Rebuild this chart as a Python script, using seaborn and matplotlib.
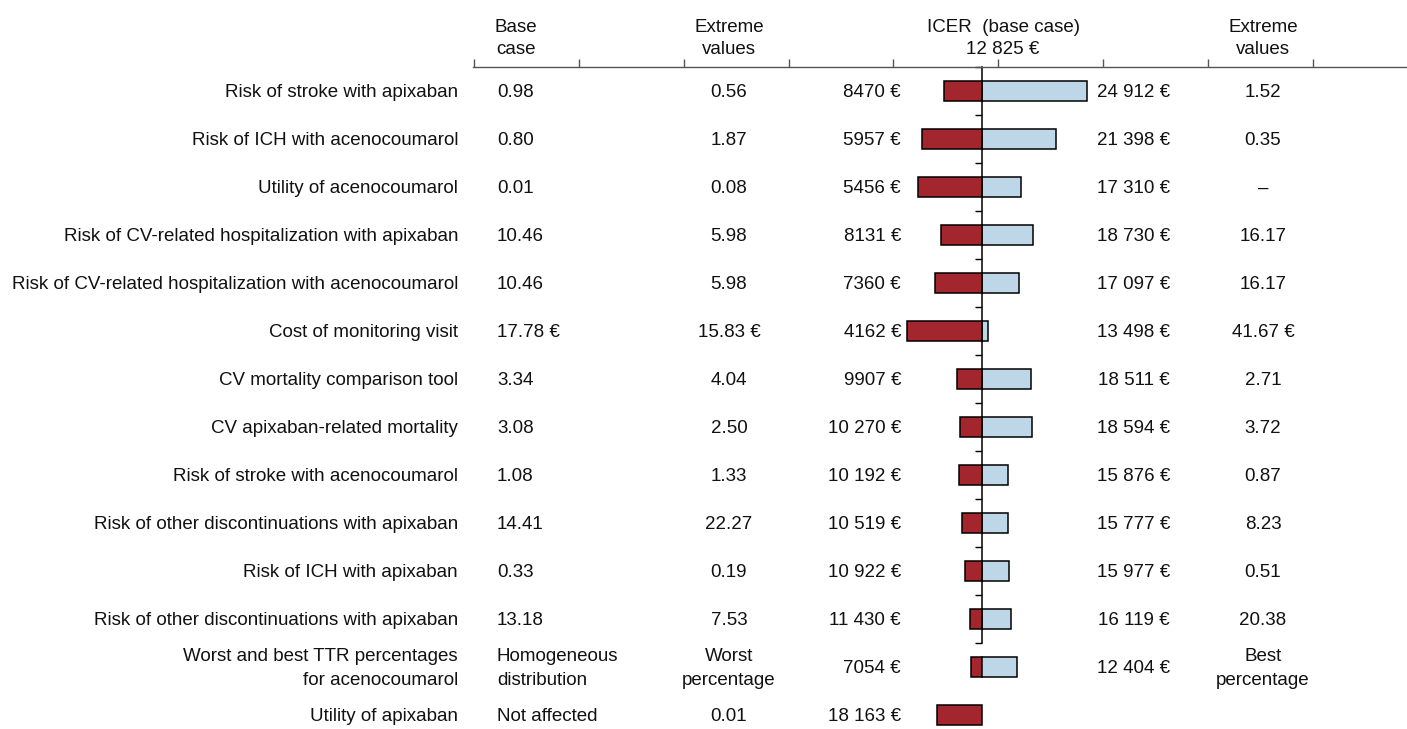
import numpy as np
import pandas as pd
import matplotlib.pyplot as plt
import matplotlib.transforms as mtransforms
import seaborn as sns

# parameters of the one-way sensitivity analysis (top to bottom)
params = ['Risk of stroke with apixaban', 'Risk of ICH with acenocoumarol', 'Utility of acenocoumarol',
          'Risk of CV-related hospitalization with apixaban',
          'Risk of CV-related hospitalization with acenocoumarol', 'Cost of monitoring visit',
          'CV mortality comparison tool', 'CV apixaban-related mortality', 'Risk of stroke with acenocoumarol',
          'Risk of other discontinuations with apixaban', 'Risk of ICH with apixaban',
          'Risk of other discontinuations with apixaban',
          'Worst and best TTR percentages\nfor acenocoumarol', 'Utility of apixaban']
base_case = ['0.98', '0.80', '0.01', '10.46', '10.46', '17.78 €', '3.34', '3.08', '1.08', '14.41', '0.33',
             '13.18', 'Homogeneous\ndistribution', 'Not affected']
extreme_low = ['0.56', '1.87', '0.08', '5.98', '5.98', '15.83 €', '4.04', '2.50', '1.33', '22.27', '0.19',
               '7.53', 'Worst\npercentage', '0.01']
extreme_high = ['1.52', '0.35', '–', '16.17', '16.17', '41.67 €', '2.71', '3.72', '0.87', '8.23', '0.51',
                '20.38', 'Best\npercentage', '']
icer_low = [8470, 5957, 5456, 8131, 7360, 4162, 9907, 10270, 10192, 10519, 10922, 11430, 7054, 18163]
icer_high = [24912, 21398, 17310, 18730, 17097, 13498, 18511, 18594, 15876, 15777, 15977, 16119, 12404, np.nan]
icer_base = 12825

# bar ends as they are drawn (last two rows are not drawn to scale in the original)
bar_low = icer_low[:12] + [11560, 7650]
bar_high = icer_high[:12] + [16850, np.nan]

W, H = 1407, 729
red = '#a3262f'
blue = '#bdd7e9'
txt = '#111111'
eur_px = 115.3  # euros per pixel
x0_px = 982     # base case line
row0_px, row_step = 91, 48

def fmt(v):
    if np.isnan(v):
        return ''
    v = int(v)
    return f'{v:,}'.replace(',', ' ') + ' €' if v >= 10000 else f'{v} €'

sns.set_style('white')
plt.rcParams['font.family'] = ['Liberation Sans', 'DejaVu Sans']
plt.rcParams['font.size'] = 13.5

fig = plt.figure(figsize=(W / 100, H / 100), dpi=100)
fig.patch.set_facecolor('white')
n_axis_rows = 12
top_px = row0_px - row_step / 2
bot_px = row0_px + (n_axis_rows - 0.5) * row_step
ax = fig.add_axes([0, 1 - bot_px / H, 1, (bot_px - top_px) / H])
ax.patch.set_alpha(0)

rows = [f'r{i}' for i in range(len(params))]
df = pd.DataFrame({'row': rows,
                   'low': np.array(bar_low, dtype=float) - icer_base,
                   'high': np.array(bar_high, dtype=float) - icer_base})
sns.barplot(data=df, x='low', y='row', order=rows, orient='h', color=red, saturation=1,
            edgecolor='black', linewidth=1.1, width=0.41, errorbar=None, ax=ax)
sns.barplot(data=df.dropna(), x='high', y='row', order=rows, orient='h', color=blue, saturation=1,
            edgecolor='black', linewidth=1.1, width=0.41, errorbar=None, ax=ax)
for p in ax.patches:
    p.set_clip_on(False)

ax.set_xlim(-x0_px * eur_px, (W - x0_px) * eur_px)
ax.set_ylim(n_axis_rows - 0.5, -0.5)
for s in ['top', 'right', 'bottom']:
    ax.spines[s].set_visible(False)
ax.spines['left'].set_position(('data', 0))
ax.spines['left'].set_linewidth(1.1)
ax.spines['left'].set_color('black')
ax.set_xticks([])
ax.set_yticks(np.arange(-0.5, n_axis_rows, 1))
ax.set_yticklabels([])
ax.tick_params(axis='y', direction='out', length=5, width=1, color='black', left=True)
ax.set_xlabel('')
ax.set_ylabel('')

# top header rule
ax_top = fig.add_axes([473 / W, 1 - 67 / H, (W - 473) / W, 0.03])
ax_top.patch.set_alpha(0)
for s in ['top', 'right', 'left']:
    ax_top.spines[s].set_visible(False)
ax_top.spines['bottom'].set_color('#555555')
ax_top.spines['bottom'].set_linewidth(1)
ax_top.set_xlim(0, W - 473)
ax_top.set_xticks(np.arange(9) * 104.85 + 1)
ax_top.set_xticklabels([])
ax_top.set_yticks([])
ax_top.tick_params(axis='x', direction='in', length=6, width=1, color='#555555', bottom=True)

# text columns
tr = mtransforms.offset_copy(mtransforms.blended_transform_factory(fig.transFigure, ax.transData),
                             fig=fig, y=-1.5, units='dots')
for i in range(len(params)):
    ax.text(458 / W, i, params[i], transform=tr, ha='right', va='center', color=txt, linespacing=1.5)
    ax.text(497 / W, i, base_case[i], transform=tr, ha='left', va='center', color=txt, linespacing=1.5)
    ax.text(729 / W, i, extreme_low[i], transform=tr, ha='center', va='center', color=txt, linespacing=1.5)
    ax.text(901 / W, i, fmt(icer_low[i]), transform=tr, ha='right', va='center', color=txt)
    ax.text(1170 / W, i, fmt(icer_high[i]), transform=tr, ha='right', va='center', color=txt)
    ax.text(1263 / W, i, extreme_high[i], transform=tr, ha='center', va='center', color=txt, linespacing=1.5)

headers = [(516, 'Base\ncase'), (729, 'Extreme\nvalues'),
           (1003, 'ICER  (base case)\n' + fmt(icer_base)), (1263, 'Extreme\nvalues')]
for xp, h in headers:
    fig.text(xp / W, 1 - 38.5 / H, h, ha='center', va='center', color=txt, linespacing=1.4)

fig.savefig('out.png', dpi=100, facecolor='white')
